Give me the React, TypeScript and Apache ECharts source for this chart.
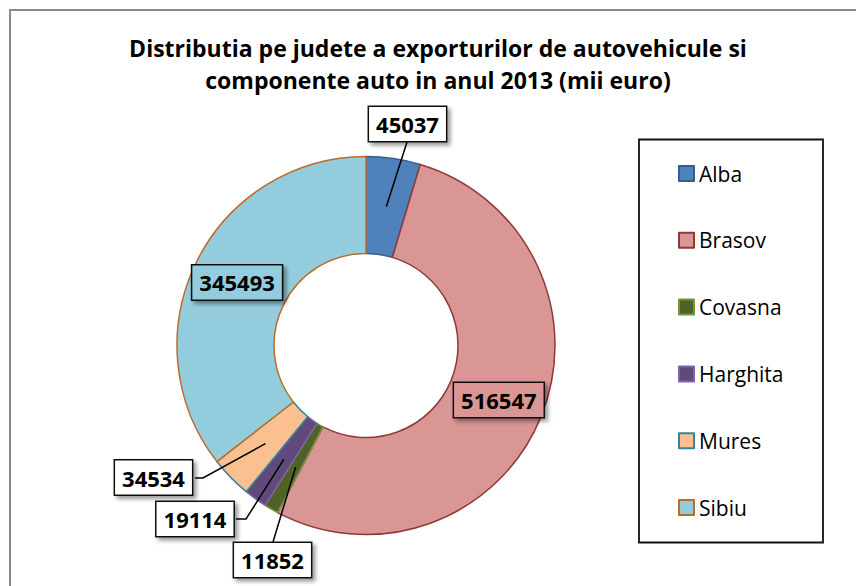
import React, { useEffect, useRef } from "react";
import * as echarts from "echarts";

const titleLines = [
  "Distributia pe judete a exporturilor de autovehicule si",
  "componente auto in anul 2013 (mii euro)",
];
const categories = ["Alba", "Brasov", "Covasna", "Harghita", "Mures", "Sibiu"];
const values = [45037, 516547, 11852, 19114, 34534, 345493];
const fillColors = ["#4F81BD", "#D99694", "#4F6228", "#604A7B", "#FAC090", "#93CDDD"];
const borderColors = ["#385D8A", "#8E3A38", "#77933C", "#8064A2", "#31859C", "#BE6A2A"];
const labelInside = [false, true, false, false, false, true];
// label box centers and leader-line elbows for outside labels
const labelCenters: ([number, number] | null)[] = [
  [407.5, 124],
  null,
  [272.5, 560],
  [195, 519],
  [153.5, 477.5],
  null,
];
const labelElbows: ([number, number] | null)[] = [
  [407, 142],
  null,
  [273, 542],
  [246, 519],
  [203, 478],
  null,
];
const labelEnds: ([number, number] | null)[] = [
  [407, 142],
  null,
  [273, 542],
  [236, 519],
  [195, 478],
  null,
];

const CX = 366;
const CY = 345.5;
const R_IN = 92;
const R_OUT = 189;
const FONT = "'Open Sans', 'Liberation Sans', sans-serif";

export default function App() {
  const ref = useRef<HTMLDivElement>(null);
  useEffect(() => {
    if (!ref.current) return;
    const chart = echarts.init(ref.current, undefined, { renderer: "svg" });
    const total = values.reduce((a, b) => a + b, 0);
    const midAngles: number[] = [];
    let acc = 0;
    values.forEach((v) => {
      midAngles.push(((acc + v / 2) / total) * Math.PI * 2);
      acc += v;
    });
    const rMid = (R_IN + R_OUT) / 2;

    chart.setOption({
      animation: false,
      backgroundColor: "#ffffff",
      graphic: [
        {
          type: "rect",
          shape: { x: 10, y: 10, width: 900, height: 700 },
          style: { fill: "none", stroke: "#8A8A8A", lineWidth: 2 },
          silent: true,
        },
        {
          type: "rect",
          shape: { x: 639, y: 139.5, width: 184, height: 403 },
          style: { fill: "none", stroke: "#111", lineWidth: 1.8 },
          silent: true,
        },
        {
          type: "text",
          x: 438,
          y: 64,
          style: {
            text: titleLines.join("\n"),
            align: "center",
            verticalAlign: "middle",
            font: `bold 23px ${FONT}`,
            lineHeight: 32,
            fill: "#000",
          },
          silent: true,
        },
      ],
      legend: {
        orient: "vertical",
        left: 678,
        top: 163,
        padding: 0,
        itemWidth: 15,
        itemHeight: 15,
        itemGap: 45.8,
        icon: "rect",
        data: categories,
        selectedMode: false,
        textStyle: {
          fontSize: 21,
          lineHeight: 20,
          fontFamily: FONT,
          color: "#000",
        },
      },
      series: [
        {
          type: "pie",
          z: 2,
          center: [CX, CY],
          radius: [R_IN, R_OUT],
          startAngle: 90,
          clockwise: true,
          silent: true,
          label: { show: false },
          labelLine: { show: false },
          data: categories.map((name, i) => ({
            name,
            value: values[i],
            itemStyle: {
              color: fillColors[i],
              borderColor: borderColors[i],
              borderWidth: 1.5,
            },
          })),
        },
        {
          type: "pie",
          z: 5,
          center: [CX, CY],
          radius: [R_IN, R_OUT],
          startAngle: 90,
          clockwise: true,
          avoidLabelOverlap: false,
          silent: true,
          data: categories.map((name, i) => ({
            name,
            value: values[i],
            itemStyle: {
              color: "rgba(0,0,0,0)",
              borderWidth: 0,
            },
            label: {
              position: labelInside[i] ? "inside" : "outside",
              backgroundColor: labelInside[i] ? fillColors[i] : "#ffffff",
            },
            labelLine: { show: !labelInside[i] },
          })),
          label: {
            show: true,
            formatter: "{c}",
            fontFamily: FONT,
            fontSize: 22,
            fontWeight: "bold",
            color: "#000",
            lineHeight: 24,
            borderColor: "#111",
            borderWidth: 1.5,
            padding: [5, 7],
            shadowColor: "rgba(0,0,0,0.4)",
            shadowBlur: 4,
            shadowOffsetX: 3,
            shadowOffsetY: 3,
          },
          labelLine: {
            show: true,
            length: 10,
            length2: 10,
            lineStyle: { color: "#000", width: 1.5 },
          },
          labelLayout: (params: any) => {
            const i = params.dataIndex;
            const c = labelCenters[i];
            if (!c) return {};
            const a = midAngles[i];
            const sx = CX + rMid * Math.sin(a);
            const sy = CY - rMid * Math.cos(a);
            return {
              x: c[0],
              y: c[1],
              align: "center",
              verticalAlign: "middle",
              labelLinePoints: [
                [sx, sy],
                labelElbows[i] as [number, number],
                labelEnds[i] as [number, number],
              ],
            };
          },
        },
      ],
    });
    return () => chart.dispose();
  }, []);
  return (
    <div
      ref={ref}
      style={{ position: "fixed", left: 0, top: 0, width: 856, height: 586 }}
    />
  );
}
